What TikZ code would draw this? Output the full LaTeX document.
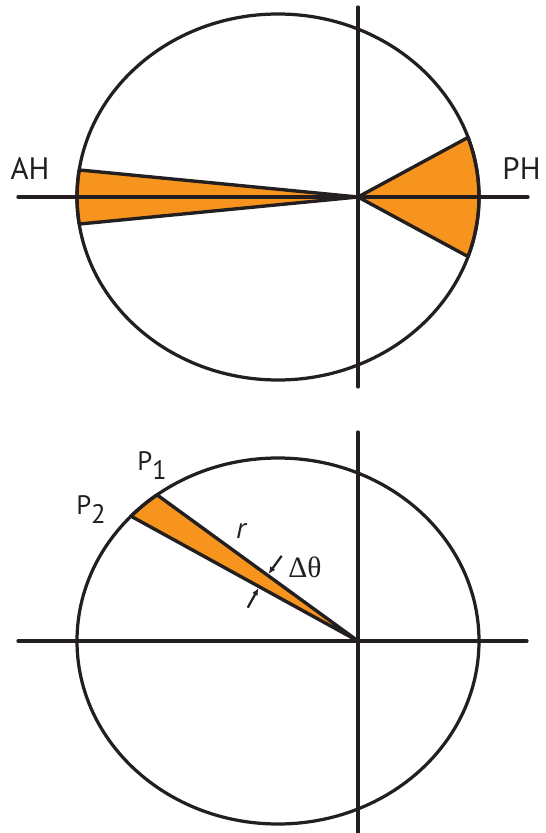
\documentclass[tikz,border=0pt]{standalone}
\usepackage{fontspec}
\setmainfont{PT Sans}
\newfontfamily\greekserif{Liberation Serif}
\usepackage{tikz}
\usetikzlibrary{calc,arrows.meta}
\definecolor{orb-fill}{HTML}{F7941E}
\definecolor{orb-line}{HTML}{231F20}

\begin{document}
\begin{tikzpicture}[
    x=0.025cm, y=-0.025cm,
    orbit/.style={draw=orb-line, line width=2.3pt},
    axis/.style={draw=orb-line, line width=2.3pt, line cap=round},
    wedge/.style={fill=orb-fill, draw=orb-line, line width=2.4pt, line join=round},
    tick/.style={-{Latex[length=5pt,width=4.5pt]}, draw=orb-line, line width=1.6pt, shorten >=1.2pt},
    lab/.style={text=orb-line, inner sep=0pt, font=\fontsize{22}{26}\selectfont}
]
\useasboundingbox (0,0) rectangle (545,833);

% ── Figura superior: AH e PH ──────────────────────────────────
\coordinate (c1) at (278,197);
\coordinate (f1) at (358,197);

\path[wedge] (f1) -- ($(c1)+(188.5:201 and 183)$)
    arc[start angle=188.5, end angle=171.5, x radius=201, y radius=183] -- cycle;
\path[wedge] (f1) -- ($(c1)+(-19:201 and 183)$)
    arc[start angle=-19, end angle=19, x radius=201, y radius=183] -- cycle;

\draw[orbit] (c1) ellipse [x radius=201, y radius=183];
\draw[axis] (18,197) -- (528,197);
\draw[axis] (358,7) -- (358,387);

\node[lab] (ah) at (30,168.5) {AH};
\node[lab] (ph) at (521.5,168.5) {PH};

% ── Figura inferior: setor entre P1 e P2 ──────────────────────
\coordinate (c2) at (278,641);
\coordinate (f2) at (358,641);
\coordinate (p1) at ($(c2)+(233:201 and 183)$);
\coordinate (p2) at ($(c2)+(223:201 and 183)$);

\path[wedge] (f2) -- (p1)
    arc[start angle=233, end angle=223, x radius=201, y radius=183] -- cycle;

\draw[orbit] (c2) ellipse [x radius=201, y radius=183];
\draw[axis] (18,641) -- (527,641);
\draw[axis] (358,432) -- (358,833);

% setas do angulo
\coordinate (t1) at ($(f2)!0.45!(p1)$);
\coordinate (t2) at ($(f2)!0.435!(p2)$);
\draw[tick] ($(t1)!17pt!90:(f2)$) -- (t1);
\draw[tick] ($(t2)!17pt!-90:(f2)$) -- (t2);

\node[lab, font=\fontsize{19}{23}\selectfont, anchor=base west] (lp1) at (137,470) {P\raisebox{-6.5pt}{1}};
\node[lab, font=\fontsize{19}{23}\selectfont, anchor=base west] (lp2) at (76,514) {P\raisebox{-6.5pt}{2}};
\node[lab, font=\fontsize{21}{25}\selectfont\itshape, anchor=base] (lr) at (241,538) {r};
\node[lab, font=\fontsize{21}{25}\selectfont\greekserif, anchor=base west] (ldt) at (288,577) {Δθ};

\end{tikzpicture}
\end{document}
